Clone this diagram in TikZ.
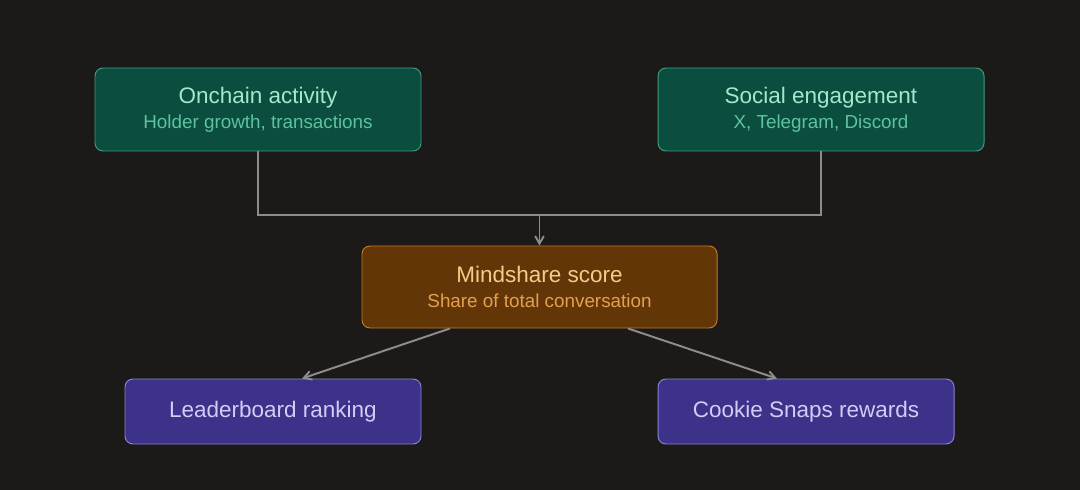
\documentclass[tikz,border=0pt]{standalone}
\usepackage{fontspec}
\setmainfont{Liberation Sans}
\usetikzlibrary{arrows}
\definecolor{bgdark}{HTML}{1B1A19}
\definecolor{greenfill}{HTML}{0B4D3F}
\definecolor{greenline}{HTML}{3E9C7E}
\definecolor{greentitle}{HTML}{A8E6CB}
\definecolor{greensub}{HTML}{5DC39E}
\definecolor{orangefill}{HTML}{633608}
\definecolor{orangeline}{HTML}{C07A22}
\definecolor{orangetitle}{HTML}{F7CB87}
\definecolor{orangesub}{HTML}{E3A04F}
\definecolor{purplefill}{HTML}{3C3289}
\definecolor{purpleline}{HTML}{8A80D3}
\definecolor{purpletext}{HTML}{D2CCF6}
\definecolor{wire}{HTML}{8C8C8C}
\tikzstyle{source} = [rectangle, rounded corners=0.2cm, minimum width=8.15cm, minimum height=2.075cm, align=center, draw=greenline, line width=0.7pt, fill=greenfill, text=greentitle, font=\fontsize{16}{19}\selectfont]
\tikzstyle{score} = [rectangle, rounded corners=0.2cm, minimum width=8.875cm, minimum height=2.05cm, align=center, draw=orangeline, line width=0.7pt, fill=orangefill, text=orangetitle, font=\fontsize{16}{19}\selectfont]
\tikzstyle{outcome} = [rectangle, rounded corners=0.2cm, minimum width=7.4cm, minimum height=1.625cm, align=center, draw=purpleline, line width=0.7pt, fill=purplefill, text=purpletext, font=\fontsize{16}{19}\selectfont]
\tikzstyle{wireline} = [line width=1.4pt, draw=wire]
\tikzstyle{arrow} = [wireline, ->, >=angle 60]

\begin{document}
\begin{tikzpicture}[node distance=2cm]
	\fill[bgdark] (0,0) rectangle (27,-12.25);
	\node (onchain) [source] at (6.45,-2.7375) {Onchain activity\\[-1pt]{\fontsize{13.4}{16}\selectfont\color{greensub}Holder growth, transactions}};
	\node (social) [source, right of=onchain, xshift=12.075cm] {Social engagement\\[-1pt]{\fontsize{13.4}{16}\selectfont\color{greensub}X, Telegram, Discord}};
	\node (mind) [score] at (13.4875,-7.175) {Mindshare score\\[-1pt]{\fontsize{13.4}{16}\selectfont\color{orangesub}Share of total conversation}};
	\node (leader) [outcome] at (6.825,-10.2875) {Leaderboard ranking};
	\node (cookie) [outcome, right of=leader, xshift=11.325cm] {Cookie Snaps rewards};
	\coordinate (join) at (13.4875,-5.375);
	\draw [wireline] (onchain.south) |- (join) -| (social.south);
	\draw [arrow] (join) -- (mind.north);
	\draw [arrow] ([xshift=-2.24cm]mind.south) -- ([xshift=0.725cm]leader.north);
	\draw [arrow] ([xshift=2.2125cm]mind.south) -- ([xshift=-0.725cm]cookie.north);
\end{tikzpicture}
\end{document}
